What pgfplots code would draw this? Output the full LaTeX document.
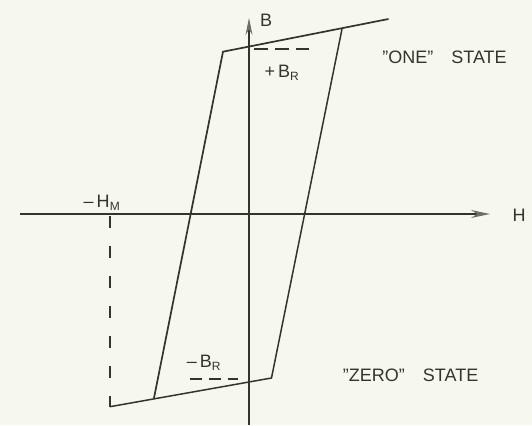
\documentclass[border=0pt]{standalone}
\usepackage{pgfplots}
\pgfplotsset{compat=1.18}
\usepackage{fontspec}
\setmainfont{Liberation Sans}
\usetikzlibrary{arrows.meta}
\definecolor{bg}{HTML}{F6F8EE}
\definecolor{ink}{HTML}{34342C}
\definecolor{arr}{HTML}{6E6E66}
\newcommand{\sub}[1]{\textsubscript{\fontsize{12}{14}\selectfont #1}}
\begin{document}
\begin{tikzpicture}
\begin{axis}[
  scale only axis, width=532pt, height=425pt,
  xmin=-249, xmax=283, ymin=-211, ymax=214,
  axis line style={draw=none}, ticks=none,
  axis background/.style={fill=bg},
  clip=false,
]
% axes
\addplot[ink, line width=1.4pt, -{Stealth[length=19pt,width=8pt,color=arr,fill=arr]}] coordinates {(-229,0) (241,0)};
\addplot[ink, line width=1.2pt, -{Stealth[length=17pt,width=7pt,color=arr,fill=arr]}] coordinates {(0,-211) (0,196)};
% loop
\addplot[ink, line width=1.7pt, line join=round] coordinates {(-95,-184) (-26,162.3) (139.5,195)};
\addplot[ink, line width=1.5pt, line join=round] coordinates {(-139,-192.7) (22.5,-164) (93,185)};
% dashed guides
\addplot[ink, line width=1.5pt, dash pattern=on 12pt off 18pt] coordinates {(-139,-2) (-139,-192.7)};
\addplot[ink, line width=1.5pt, dash pattern=on 14pt off 7pt] coordinates {(5,165) (60,165)};
\addplot[ink, line width=1.5pt, dash pattern=on 12pt off 7pt] coordinates {(-59,-165) (-11,-165)};
% labels
\node[ink, font=\fontsize{18}{21}\selectfont] at (axis cs:270,-1) {H};
\node[ink, font=\fontsize{18}{21}\selectfont] at (axis cs:17,194) {B};
\node[ink, font=\fontsize{18}{21}\selectfont] at (axis cs:-147,11) {--\,H\sub{M}};
\node[ink, font=\fontsize{18}{21}\selectfont] at (axis cs:33,141) {+\,B\sub{R}};
\node[ink, font=\fontsize{18}{21}\selectfont] at (axis cs:-45,-149) {--\,B\sub{R}};
\node[ink, font=\fontsize{18}{21}\selectfont] at (axis cs:195.5,157) {"ONE"\quad STATE};
\node[ink, font=\fontsize{18}{21}\selectfont] at (axis cs:161.6,-161) {"ZERO"\quad STATE};
\end{axis}
\end{tikzpicture}
\end{document}
